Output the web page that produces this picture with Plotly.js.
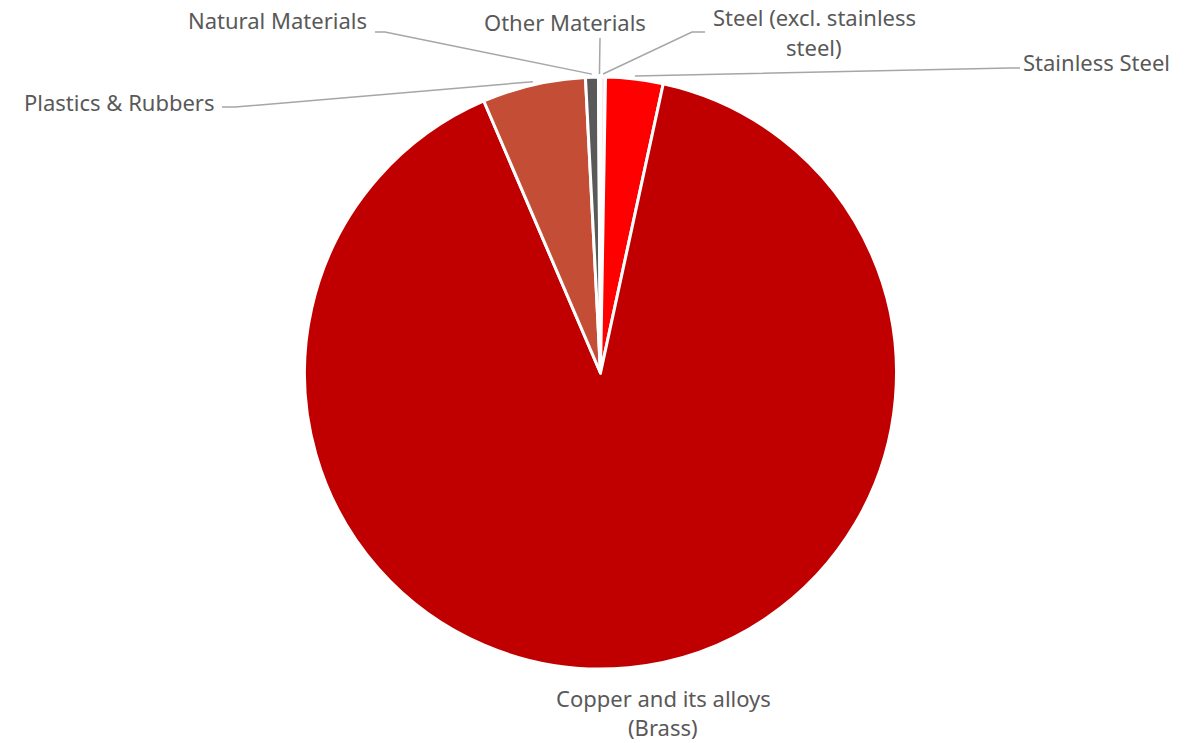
<!DOCTYPE html>
<html>
<head>
<meta charset="utf-8">
<script src="https://cdn.plot.ly/plotly-3.0.1.min.js"></script>
<style>html,body{margin:0;padding:0;background:#fff;}#chart{width:1201px;height:743px;}</style>
</head>
<body>
<div id="chart"></div>
<script>
// Data (clockwise from 12 o'clock)
const categories = [
  "Steel (excl. stainless steel)",
  "Stainless Steel",
  "Copper and its alloys (Brass)",
  "Plastics & Rubbers",
  "Natural Materials",
  "Other Materials"
];
const shares = [0.27, 3.13, 90.15, 5.64, 0.70, 0.11];
const labelLines = [
  ["Steel (excl. stainless", "steel)"],
  ["Stainless Steel"],
  ["Copper and its alloys", "(Brass)"],
  ["Plastics & Rubbers"],
  ["Natural Materials"],
  ["Other Materials"]
];
const colors = ["#FBEAEA", "#FF0000", "#C00000", "#C44D36", "#595959", "#F2F2F2"];

// Layout geometry
const W = 1201, H = 743;
const M = {l: 0, r: 0, t: 77, b: 74};
const plotH = H - M.t - M.b;
const cx = (W - M.l - M.r) / 2 + M.l;
const cy = M.t + plotH / 2;
const R = Math.min(W - M.l - M.r, plotH) / 2;

// label placement (px): text anchor, elbow point, line end near label
const labelPos = [
  {x: 814, ys: [17, 47], xa: "center", elbow: [692, 32], end: [705, 32]},
  {x: 1022, ys: [62], xa: "left", elbow: [1010, 68], end: [1020, 68]},
  {x: 663, ys: [698, 727], xa: "center", elbow: null, end: null},
  {x: 216, ys: [102], xa: "right", elbow: [235, 107], end: [222, 107]},
  {x: 368, ys: [20], xa: "right", elbow: [385, 32], end: [375, 32]},
  {x: 565, ys: [22], xa: "center", elbow: [600, 38], end: [600, 38]}
];

const px2x = p => (p - M.l) / (W - M.l - M.r);
const px2y = p => (H - M.b - p) / plotH;

const total = shares.reduce((a, b) => a + b, 0);
let cum = 0;
const shapes = [];
const annotations = [];
const font = {family: "Noto Sans, Open Sans, sans-serif", size: 22, color: "#595959"};
shares.forEach((v, i) => {
  const mid = (cum + v / 2) / total * 2 * Math.PI;
  cum += v;
  const lp = labelPos[i];
  lp.ys.forEach((yy, k) => {
    annotations.push({
      xref: "paper", yref: "paper",
      x: px2x(lp.x), y: px2y(yy),
      xanchor: lp.xa, yanchor: "middle",
      borderpad: 0,
      text: labelLines[i][k], showarrow: false, font: font
    });
  });
  if (lp.elbow) {
    const rr = R + 3;
    const sx = cx + rr * Math.sin(mid);
    const sy = cy - rr * Math.cos(mid);
    const path = "M " + px2x(sx) + "," + px2y(sy) +
      " L " + px2x(lp.elbow[0]) + "," + px2y(lp.elbow[1]) +
      " L " + px2x(lp.end[0]) + "," + px2y(lp.end[1]);
    shapes.push({type: "path", xref: "paper", yref: "paper", path: path,
      line: {color: "#A6A6A6", width: 1.5}});
  }
});

const trace = {
  type: "pie",
  labels: categories,
  values: shares,
  sort: false,
  direction: "clockwise",
  rotation: 0,
  textinfo: "none",
  hoverinfo: "label+percent",
  marker: {colors: colors, line: {color: "#FFFFFF", width: 3}},
  showlegend: false
};

const layout = {
  width: W, height: H,
  margin: M,
  paper_bgcolor: "#FFFFFF",
  plot_bgcolor: "#FFFFFF",
  showlegend: false,
  shapes: shapes,
  annotations: annotations
};

Plotly.newPlot("chart", [trace], layout, {displayModeBar: false, staticPlot: true});
</script>
</body>
</html>
